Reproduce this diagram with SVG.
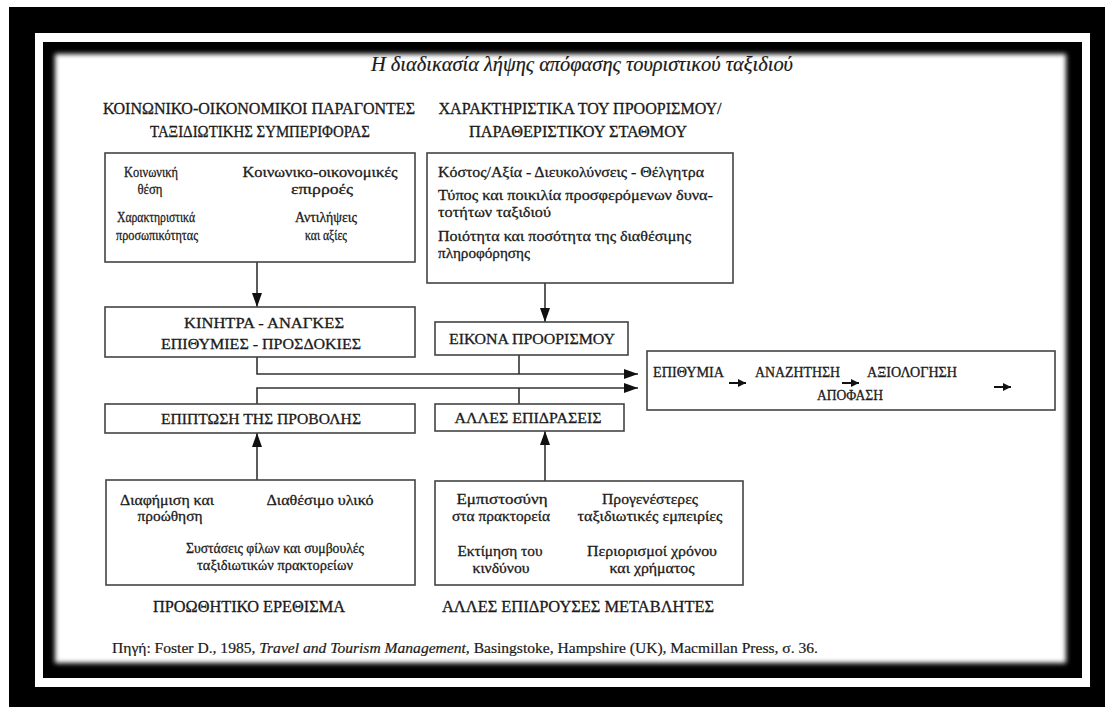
<svg xmlns="http://www.w3.org/2000/svg" width="1105" height="707" viewBox="0 0 1105 707">
<style>
text{font-family:"Liberation Serif","DejaVu Serif",serif;fill:#1a1a1a;stroke:#1a1a1a;stroke-width:0.3;font-size:15.5px}
.c{text-anchor:middle}
.h{font-size:16px}
.t{font-size:20px;font-style:italic;stroke-width:0.2}
.r{font-size:15px}
.f{font-size:14.5px;stroke-width:0.2}
.box{fill:#fff;stroke:#444;stroke-width:1.6}
.ln{fill:none;stroke:#333;stroke-width:1.6}
.sm{fill:none;stroke:#111;stroke-width:2}
</style>
<defs>
<filter id="soft" x="-5%" y="-5%" width="110%" height="110%"><feGaussianBlur stdDeviation="2.5"/></filter>
<marker id="ah" markerUnits="userSpaceOnUse" markerWidth="14" markerHeight="10" refX="14" refY="5" orient="auto"><path d="M0,0 L14,5 L0,10 z" fill="#111"/></marker>
<marker id="as" markerUnits="userSpaceOnUse" markerWidth="8" markerHeight="8" refX="8" refY="4" orient="auto"><path d="M0,0 L8,4 L0,8 z" fill="#111"/></marker>
</defs>
<rect width="1105" height="707" fill="#fff"/>
<rect x="9" y="7" width="1096" height="700" fill="#000"/>
<rect x="35" y="33" width="1055" height="654" fill="#fff"/>
<rect x="43" y="42" width="1039" height="636" fill="#000"/>
<rect x="55" y="54" width="1011" height="609" fill="#fff" filter="url(#soft)"/>

<text class="t c" x="582" y="71" textLength="422" lengthAdjust="spacingAndGlyphs">Η διαδικασία λήψης απόφασης τουριστικού ταξιδιού</text>

<g id="hdr-left">
<text class="h c" x="259" y="114" textLength="312" lengthAdjust="spacingAndGlyphs">ΚΟΙΝΩΝΙΚΟ-ΟΙΚΟΝΟΜΙΚΟΙ ΠΑΡΑΓΟΝΤΕΣ</text>
<text class="h c" x="260" y="137" textLength="220" lengthAdjust="spacingAndGlyphs">ΤΑΞΙΔΙΩΤΙΚΗΣ ΣΥΜΠΕΡΙΦΟΡΑΣ</text>
</g>
<g id="hdr-right">
<text class="h c" x="580" y="114" textLength="283" lengthAdjust="spacingAndGlyphs">ΧΑΡΑΚΤΗΡΙΣΤΙΚΑ ΤΟΥ ΠΡΟΟΡΙΣΜΟΥ/</text>
<text class="h c" x="578" y="137" textLength="218" lengthAdjust="spacingAndGlyphs">ΠΑΡΑΘΕΡΙΣΤΙΚΟΥ ΣΤΑΘΜΟΥ</text>
</g>

<g id="connectors">
<line class="ln" x1="257" y1="262" x2="257" y2="307" marker-end="url(#ah)"/>
<line class="ln" x1="545" y1="283" x2="545" y2="322" marker-end="url(#ah)"/>
<polyline class="ln" points="257,357 257,374 638,374" marker-end="url(#ah)"/>
<line class="ln" x1="519" y1="355" x2="519" y2="374"/>
<polyline class="ln" points="257,404 257,388 638,388" marker-end="url(#ah)"/>
<line class="ln" x1="519" y1="404" x2="519" y2="388"/>
<line class="ln" x1="257" y1="480" x2="257" y2="433" marker-end="url(#ah)"/>
<line class="ln" x1="545" y1="481" x2="545" y2="431" marker-end="url(#ah)"/>
</g>

<g id="box-socio">
<rect class="box" x="105" y="153" width="310" height="109"/>
<text class="c" x="151" y="177" textLength="54" lengthAdjust="spacingAndGlyphs">Κοινωνική</text>
<text class="c" x="150" y="194" textLength="25" lengthAdjust="spacingAndGlyphs">θέση</text>
<text class="c" x="320" y="177" textLength="155" lengthAdjust="spacingAndGlyphs">Κοινωνικο-οικονομικές</text>
<text class="c" x="322" y="194" textLength="62" lengthAdjust="spacingAndGlyphs">επιρροές</text>
<text class="c" x="156" y="222" textLength="78" lengthAdjust="spacingAndGlyphs">Χαρακτηριστικά</text>
<text class="c" x="157" y="240" textLength="82" lengthAdjust="spacingAndGlyphs">προσωπικότητας</text>
<text class="c" x="326" y="222" textLength="62" lengthAdjust="spacingAndGlyphs">Αντιλήψεις</text>
<text class="c" x="326" y="240" textLength="42" lengthAdjust="spacingAndGlyphs">και αξίες</text>
</g>

<g id="box-dest">
<rect class="box" x="427" y="153" width="306" height="130"/>
<text x="438" y="177" textLength="266" lengthAdjust="spacingAndGlyphs">Κόστος/Αξία - Διευκολύνσεις - Θέλγητρα</text>
<text x="438" y="200" textLength="275" lengthAdjust="spacingAndGlyphs">Τύπος και ποικιλία προσφερόμενων δυνα-</text>
<text x="438" y="217" textLength="113" lengthAdjust="spacingAndGlyphs">τοτήτων ταξιδιού</text>
<text x="438" y="241" textLength="253" lengthAdjust="spacingAndGlyphs">Ποιότητα και ποσότητα της διαθέσιμης</text>
<text x="438" y="258" textLength="92" lengthAdjust="spacingAndGlyphs">πληροφόρησης</text>
</g>

<g id="box-motives">
<rect class="box" x="105" y="307" width="310" height="50"/>
<text class="c" x="264" y="328" textLength="160" lengthAdjust="spacingAndGlyphs">ΚΙΝΗΤΡΑ - ΑΝΑΓΚΕΣ</text>
<text class="c" x="261" y="349" textLength="200" lengthAdjust="spacingAndGlyphs">ΕΠΙΘΥΜΙΕΣ - ΠΡΟΣΔΟΚΙΕΣ</text>
</g>

<g id="box-image">
<rect class="box" x="435" y="322" width="193" height="33"/>
<text class="c" x="532" y="344" textLength="166" lengthAdjust="spacingAndGlyphs">ΕΙΚΟΝΑ ΠΡΟΟΡΙΣΜΟΥ</text>
</g>

<g id="box-decision">
<rect class="box" x="647" y="351" width="408" height="59"/>
<text class="r" x="653" y="377" textLength="71" lengthAdjust="spacingAndGlyphs">ΕΠΙΘΥΜΙΑ</text>
<text class="r" x="755" y="377" textLength="85" lengthAdjust="spacingAndGlyphs">ΑΝΑΖΗΤΗΣΗ</text>
<text class="r" x="867" y="377" textLength="90" lengthAdjust="spacingAndGlyphs">ΑΞΙΟΛΟΓΗΣΗ</text>
<text class="r" x="817" y="400" textLength="66" lengthAdjust="spacingAndGlyphs">ΑΠΟΦΑΣΗ</text>
<line class="sm" x1="729" y1="383" x2="746" y2="383" marker-end="url(#as)"/>
<line class="sm" x1="842" y1="383" x2="859" y2="383" marker-end="url(#as)"/>
<line class="sm" x1="994" y1="387" x2="1011" y2="387" marker-end="url(#as)"/>
</g>

<g id="box-impact">
<rect class="box" x="105" y="404" width="310" height="29"/>
<text class="c" x="261" y="424" textLength="200" lengthAdjust="spacingAndGlyphs">ΕΠΙΠΤΩΣΗ ΤΗΣ ΠΡΟΒΟΛΗΣ</text>
</g>

<g id="box-other">
<rect class="box" x="435" y="404" width="189" height="27"/>
<text class="c" x="528" y="423" textLength="147" lengthAdjust="spacingAndGlyphs">ΑΛΛΕΣ ΕΠΙΔΡΑΣΕΙΣ</text>
</g>

<g id="box-promo">
<rect class="box" x="106" y="480" width="309" height="105"/>
<text class="c" x="167" y="505" textLength="94" lengthAdjust="spacingAndGlyphs">Διαφήμιση και</text>
<text class="c" x="170" y="521" textLength="65" lengthAdjust="spacingAndGlyphs">προώθηση</text>
<text class="c" x="320" y="505" textLength="107" lengthAdjust="spacingAndGlyphs">Διαθέσιμο υλικό</text>
<text class="c" x="275" y="553" textLength="178" lengthAdjust="spacingAndGlyphs">Συστάσεις φίλων και συμβουλές</text>
<text class="c" x="275" y="570" textLength="156" lengthAdjust="spacingAndGlyphs">ταξιδιωτικών πρακτορείων</text>
</g>
<text id="lbl-promo" class="h c" x="249" y="612" textLength="192" lengthAdjust="spacingAndGlyphs">ΠΡΟΩΘΗΤΙΚΟ ΕΡΕΘΙΣΜΑ</text>

<g id="box-vars">
<rect class="box" x="435" y="481" width="308" height="104"/>
<text class="c" x="502" y="504" textLength="91" lengthAdjust="spacingAndGlyphs">Εμπιστοσύνη</text>
<text class="c" x="501" y="521" textLength="98" lengthAdjust="spacingAndGlyphs">στα πρακτορεία</text>
<text class="c" x="650" y="504" textLength="96" lengthAdjust="spacingAndGlyphs">Προγενέστερες</text>
<text class="c" x="650" y="521" textLength="145" lengthAdjust="spacingAndGlyphs">ταξιδιωτικές εμπειρίες</text>
<text class="c" x="500" y="556" textLength="85" lengthAdjust="spacingAndGlyphs">Εκτίμηση του</text>
<text class="c" x="501" y="573" textLength="57" lengthAdjust="spacingAndGlyphs">κινδύνου</text>
<text class="c" x="652" y="556" textLength="130" lengthAdjust="spacingAndGlyphs">Περιορισμοί χρόνου</text>
<text class="c" x="652" y="573" textLength="85" lengthAdjust="spacingAndGlyphs">και χρήματος</text>
</g>
<text id="lbl-vars" class="h c" x="578" y="612" textLength="272" lengthAdjust="spacingAndGlyphs">ΑΛΛΕΣ ΕΠΙΔΡΟΥΣΕΣ ΜΕΤΑΒΛΗΤΕΣ</text>

<text class="f" x="112" y="653" textLength="706" lengthAdjust="spacingAndGlyphs">Πηγή: Foster D., 1985, <tspan font-style="italic">Travel and Tourism Management</tspan>, Basingstoke, Hampshire (UK), Macmillan Press, σ. 36.</text>
</svg>
